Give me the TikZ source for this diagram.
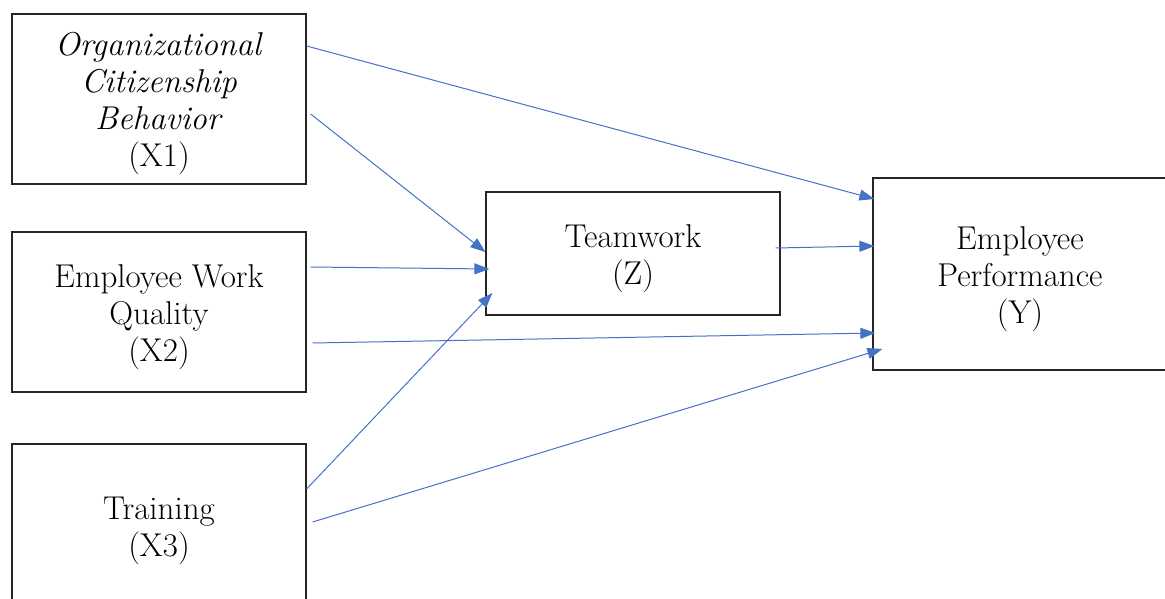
\documentclass[tikz,border=0pt]{standalone}
\usepackage{fontspec}
\usetikzlibrary{arrows.meta}
\definecolor{linkblue}{HTML}{4472C4}
% centred lines, set a little lower than the middle of the box
\newcommand\boxlines[1]{\raisebox{-5pt}[\height][\depth]{%
  \begin{tabular}{@{}c@{}}#1\end{tabular}}}
\begin{document}
\begin{tikzpicture}[x=1pt,y=-1pt,
  box/.style={draw=black!85, line width=1.2pt, fill=white,
    inner sep=0pt, font=\fontsize{33}{37}\selectfont},
  link/.style={draw=linkblue, line width=1pt,
    -{Triangle[length=15pt,width=11pt]}}]
\useasboundingbox (0,0) rectangle (1165,599);

% variable boxes
\node[box, minimum width=294pt, minimum height=170pt] (x1) at (159,99)
  {\boxlines{\textit{Organizational}\\ \textit{Citizenship}\\ \textit{Behavior}\\ (X1)}};
\node[box, minimum width=294pt, minimum height=160pt] (x2) at (159,312)
  {\boxlines{Employee Work\\ Quality\\ (X2)}};
\node[box, minimum width=294pt, minimum height=164pt] (x3) at (159,526)
  {\boxlines{Training\\ (X3)}};
\node[box, minimum width=294pt, minimum height=123pt] (z) at (633,253.5)
  {\boxlines{Teamwork\\ (Z)}};
\node[box, minimum width=294pt, minimum height=192pt] (y) at (1020,274)
  {\boxlines{Employee\\ Performance\\ (Y)}};

% paths
\draw[link] ([shift={(0,-53)}]x1.east) -- ([shift={(2,-75)}]y.west);
\draw[link] ([shift={(4,15)}]x1.east) -- ([shift={(0,-1.5)}]z.west);
\draw[link] ([shift={(4,-45)}]x2.east) -- ([shift={(4,15.5)}]z.west);
\draw[link] ([shift={(6,31)}]x2.east) -- ([shift={(3,59)}]y.west);
\draw[link] ([shift={(0,-37)}]x3.east) -- ([shift={(7,39.5)}]z.west);
\draw[link] ([shift={(6,-4)}]x3.east) -- ([shift={(10,75)}]y.west);
\draw[link] ([shift={(-5,-5.5)}]z.east) -- ([shift={(2,-28)}]y.west);
\end{tikzpicture}
\end{document}
